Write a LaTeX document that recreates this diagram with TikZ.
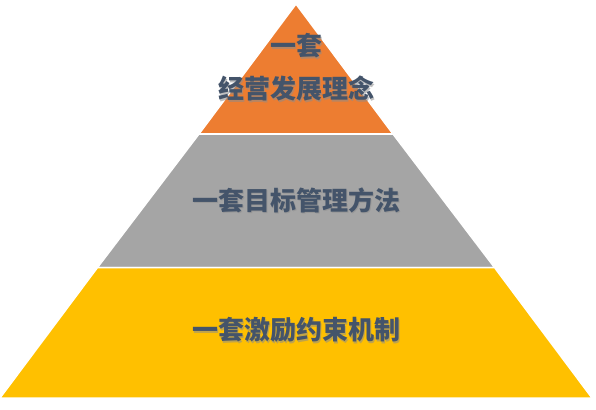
\documentclass[tikz,border=0pt]{standalone}
\usepackage{fontspec}
\newfontfamily\cjk{Noto Sans CJK SC}
\usetikzlibrary{positioning}

\definecolor{toporange}{HTML}{ED7D31}
\definecolor{midgray}{HTML}{A5A5A5}
\definecolor{baseyellow}{HTML}{FFC000}
\definecolor{textslate}{HTML}{44546A}

\begin{document}
\begin{tikzpicture}[x=1pt, y=-1pt,
    tier/.style={draw=white, line width=1.5pt, line join=miter},
    tiertext/.style={font=\cjk\bfseries\fontsize{26}{31}\selectfont, text=textslate, inner sep=0pt},
    tiershadow/.style={tiertext, text=black!45, opacity=0.55}
]
\useasboundingbox (0,0) rectangle (596,409);

% 金字塔的角点
\coordinate (apex) at (296,4);
\coordinate (L1) at (199,134);
\coordinate (R1) at (393,134);
\coordinate (L2) at (97.5,267.5);
\coordinate (R2) at (494.5,267.5);
\coordinate (L3) at (0,398);
\coordinate (R3) at (592,398);

% 三层
\fill[tier, fill=toporange] (apex) -- (R1) -- (L1) -- cycle;
\fill[tier, fill=midgray] (L1) -- (R1) -- (R2) -- (L2) -- cycle;
\fill[tier, fill=baseyellow] (L2) -- (R2) -- (R3) -- (L3) -- cycle;
\draw[tier] (L1) -- (R1) (L2) -- (R2);

% 文字阴影
\node[tiershadow] at (297.5,47.5) {一套};
\node[tiershadow] at (297.5,90.5) {经营发展理念};
\node[tiershadow] at (297.5,201.5) {一套目标管理方法};
\node[tiershadow] at (297.5,331.5) {一套激励约束机制};

% 文字
\node[tiertext] (topline) at (296,46) {一套};
\node[tiertext] (idea) at (296,89) {经营发展理念};
\node[tiertext] (goals) at (296,200) {一套目标管理方法};
\node[tiertext] (incentive) at (296,330) {一套激励约束机制};

\end{tikzpicture}
\end{document}
